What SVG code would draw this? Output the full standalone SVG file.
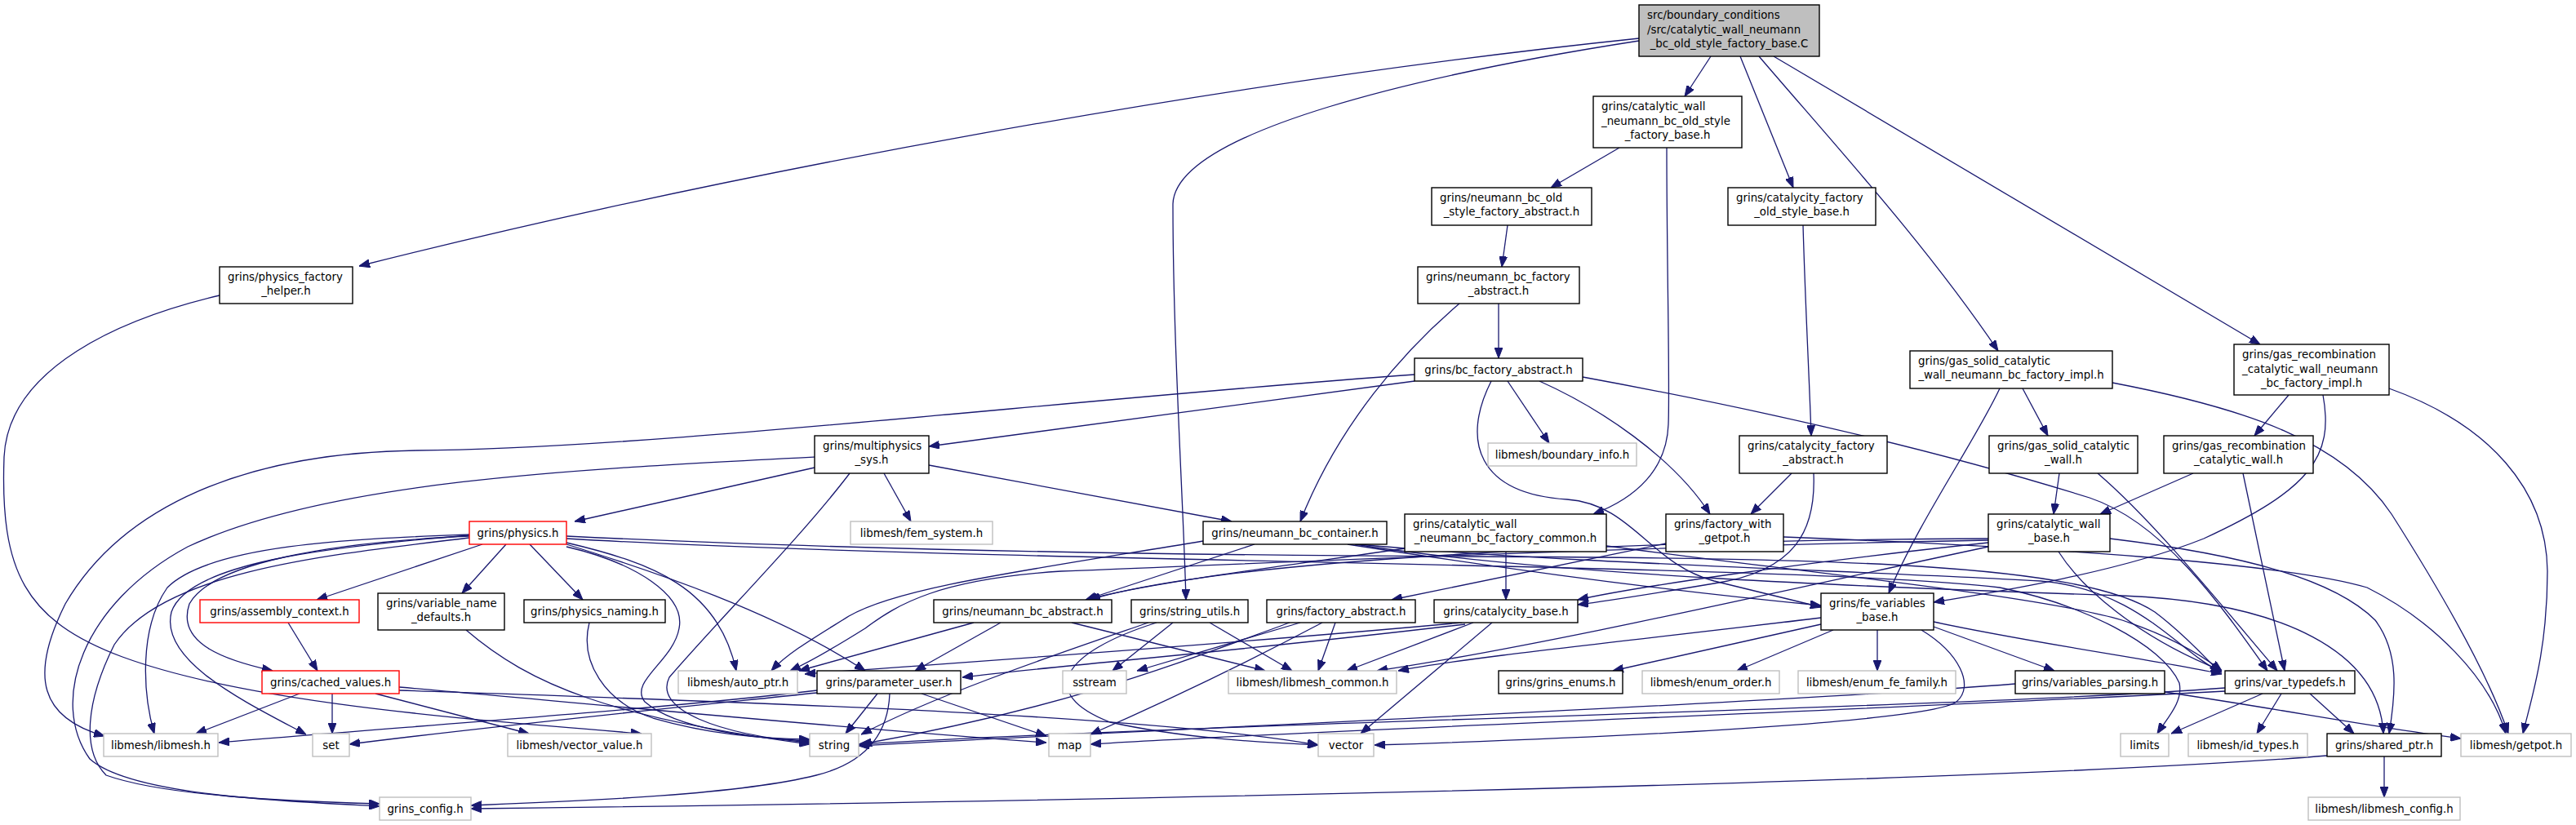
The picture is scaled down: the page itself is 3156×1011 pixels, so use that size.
<svg xmlns="http://www.w3.org/2000/svg" width="3156" height="1011" viewBox="0 0 3156 1011">
<style>
text{font-family:"DejaVu Sans","Liberation Sans",sans-serif;font-size:13.33px;fill:#000}
.c{text-anchor:middle}
.l{text-anchor:start}
rect{fill:#fff;stroke-width:1.4}
.n rect{stroke:#000}
.g rect{stroke:#bfbfbf}
.r rect{stroke:#ff0000}
.m rect{fill:#bfbfbf;stroke:#000}
#edges path{fill:none;stroke:#191970;stroke-width:1.3;marker-end:url(#ah)}
</style>
<defs>
<marker id="ah" markerUnits="userSpaceOnUse" markerWidth="13" markerHeight="10" refX="13" refY="5" orient="auto">
<path d="M0,0 L13,5 L0,10 z" fill="#191970" stroke="#191970" stroke-width="1"/>
</marker>
</defs>
<rect x="0" y="0" width="3156" height="1011" style="fill:#fff;stroke:none"/>
<g id="edges">
<path d="M2008,47 C1500,100 900,210 440,326"/>
<path d="M2008,50 C1750,90 1440,160 1437,250 C1437,420 1450,620 1453,735"/>
<path d="M2096,69 L2064,118"/>
<path d="M2132,69 L2197,230"/>
<path d="M2155,69 C2250,180 2360,300 2448,430"/>
<path d="M2173,69 L2769,422"/>
<path d="M1984,181 L1900,230"/>
<path d="M2042,181 C2042,320 2046,470 2044,520 C2042,575 2005,610 1952,630"/>
<path d="M2209,276 C2212,380 2217,470 2219,534"/>
<path d="M1847,276 L1840,327"/>
<path d="M1836,372 L1836,439"/>
<path d="M1788,372 C1720,430 1640,520 1593,639"/>
<path d="M1733,467 L1138,547"/>
<path d="M1733,459 C1300,490 800,550 510,552 C300,555 150,620 80,740 C35,830 50,880 128,902"/>
<path d="M1847,467 L1898,543"/>
<path d="M1886,467 C1960,500 2050,560 2095,630"/>
<path d="M1939,462 C2200,510 2400,560 2560,610 C2650,640 2720,740 2778,822"/>
<path d="M1827,467 C1790,540 1810,605 1920,612 C2000,618 2020,690 2100,712 L2231,744"/>
<path d="M2450,476 C2420,540 2350,640 2314,727"/>
<path d="M2478,476 L2509,534"/>
<path d="M2588,469 C2750,500 2870,540 2930,630 C3000,740 3050,830 3073,899"/>
<path d="M2804,484 L2762,534"/>
<path d="M2846,484 C2860,560 2830,600 2700,660 C2600,700 2450,725 2369,738"/>
<path d="M2927,476 C3050,520 3120,600 3121,700 C3121,800 3100,860 3091,899"/>
<path d="M998,573 L704,639"/>
<path d="M998,560 C700,575 400,590 230,670 C100,740 60,860 110,930 C160,975 350,982 465,988"/>
<path d="M1041,580 C980,660 880,760 820,830 C800,870 880,900 992,910"/>
<path d="M1083,580 L1116,639"/>
<path d="M1138,570 L1509,639"/>
<path d="M2195,580 L2145,630"/>
<path d="M2222,580 C2225,650 2200,700 2100,715 C2040,725 1980,735 1933,741"/>
<path d="M2523,580 L2516,630"/>
<path d="M2570,580 C2640,640 2720,740 2790,822"/>
<path d="M2687,580 L2573,630"/>
<path d="M2748,580 L2799,822"/>
<path d="M591,667 L388,735"/>
<path d="M620,667 L566,727"/>
<path d="M649,667 L714,735"/>
<path d="M575,657 C400,665 260,690 232,740 C215,790 280,810 334,822"/>
<path d="M575,655 C450,660 260,665 205,720 C170,770 175,850 189,899"/>
<path d="M575,656 C400,670 230,690 210,750 C195,810 300,860 375,900"/>
<path d="M575,659 C400,680 200,700 140,790 C105,860 100,920 130,950 C200,975 350,982 465,985"/>
<path d="M694,665 C800,690 880,720 902,822"/>
<path d="M694,667 C800,700 950,750 1060,822"/>
<path d="M694,670 C780,690 840,730 832,770 C825,810 770,835 790,860 C830,895 930,905 992,908"/>
<path d="M694,657 C1000,672 1400,680 1800,682 C2250,684 2550,690 2640,750 C2680,780 2705,810 2720,824"/>
<path d="M694,660 C1200,690 2200,690 2450,720 C2550,740 2650,790 2670,837 C2675,860 2655,880 2643,899"/>
<path d="M1537,667 L1330,735"/>
<path d="M1474,663 C1250,700 1100,720 1040,755 C1000,780 965,800 945,822"/>
<path d="M1651,667 C1800,690 2000,720 2231,742"/>
<path d="M1660,667 C1900,705 2300,720 2600,730 C2800,738 2915,800 2920,899"/>
<path d="M1665,667 C1900,690 2300,700 2500,712 C2620,722 2670,800 2722,824"/>
<path d="M1845,676 L1845,735"/>
<path d="M1722,672 C1600,690 1400,715 1332,735"/>
<path d="M1968,669 C2200,700 2500,730 2600,760 C2660,780 2700,805 2722,822"/>
<path d="M2041,666 L1705,735"/>
<path d="M2185,658 C2500,670 2800,690 2900,720 C2980,760 3050,830 3070,899"/>
<path d="M2436,665 C2200,690 2000,720 1933,735"/>
<path d="M2436,670 C2200,720 1900,790 1687,822"/>
<path d="M2436,660 C2000,662 1500,685 1335,735"/>
<path d="M2436,662 C2000,670 1600,688 1300,700 C1150,710 1100,740 1060,770 C1020,795 990,812 968,822"/>
<path d="M2585,660 C2750,680 2860,710 2910,760 C2940,800 2935,850 2927,899"/>
<path d="M2522,676 C2550,720 2617,780 2722,822"/>
<path d="M353,763 L389,822"/>
<path d="M571,772 C650,840 750,880 992,912"/>
<path d="M722,763 C710,810 740,860 800,880 C870,900 930,905 992,906"/>
<path d="M1193,763 L979,822"/>
<path d="M1226,763 L1121,822"/>
<path d="M1313,763 L1550,822"/>
<path d="M1437,763 L1363,822"/>
<path d="M1482,763 L1583,822"/>
<path d="M1407,763 C1300,800 1150,850 1055,900"/>
<path d="M1417,763 C1300,800 1270,850 1360,885 C1450,905 1550,910 1615,913"/>
<path d="M1636,763 L1615,822"/>
<path d="M1593,763 L1393,822"/>
<path d="M1580,763 C1450,810 1310,867 1055,912"/>
<path d="M1620,763 C1550,800 1450,850 1336,900"/>
<path d="M1805,763 L1650,822"/>
<path d="M1828,763 L1667,899"/>
<path d="M1791,763 C1500,790 1200,810 986,826"/>
<path d="M1795,765 C1500,800 1300,815 1179,830"/>
<path d="M2231,765 L1976,822"/>
<path d="M2246,772 L2128,822"/>
<path d="M2300,772 L2300,822"/>
<path d="M2369,768 L2517,822"/>
<path d="M2369,762 C2500,790 2650,810 2722,826"/>
<path d="M2231,757 C2000,785 1800,805 1713,822"/>
<path d="M2354,772 C2400,800 2420,840 2397,860 C2370,880 2100,900 1684,913"/>
<path d="M367,850 L240,899"/>
<path d="M407,850 L407,899"/>
<path d="M460,850 L648,899"/>
<path d="M489,842 C700,860 1000,890 1282,910"/>
<path d="M489,846 C900,860 1400,875 1615,913"/>
<path d="M1075,850 L1036,899"/>
<path d="M1129,850 L1282,902"/>
<path d="M1090,850 C1088,900 1060,935 1000,950 C900,975 700,982 577,987"/>
<path d="M1001,846 C800,870 500,890 268,910"/>
<path d="M1001,849 C800,870 600,890 428,912"/>
<path d="M2652,848 C2800,870 2900,890 3015,905"/>
<path d="M2469,838 C2200,860 1500,890 1052,914"/>
<path d="M2772,850 L2660,899"/>
<path d="M2795,850 L2765,899"/>
<path d="M2830,850 L2884,899"/>
<path d="M2726,843 C2400,868 1500,885 1052,912"/>
<path d="M2726,847 C2300,870 1600,895 1336,912"/>
<path d="M2851,926 C2500,955 1500,980 577,991"/>
<path d="M2921,927 L2921,977"/>
<path d="M269,362 C150,390 10,450 5,560 C0,700 30,760 150,805 C300,860 550,880 786,899"/>
</g>
<g id="n0" class="m"><rect x="2008" y="6" width="221" height="63"/><text class="l" x="2018" y="23">src/boundary_conditions</text><text class="l" x="2018" y="41">/src/catalytic_wall_neumann</text><text class="c" x="2118.5" y="58">_bc_old_style_factory_base.C</text></g>
<g id="n1" class="n"><rect x="269" y="327" width="163" height="45"/><text class="l" x="279" y="344">grins/physics_factory</text><text class="c" x="350.5" y="361">_helper.h</text></g>
<g id="n2" class="n"><rect x="1952" y="118" width="182" height="63"/><text class="l" x="1962" y="135">grins/catalytic_wall</text><text class="l" x="1962" y="153">_neumann_bc_old_style</text><text class="c" x="2043" y="170">_factory_base.h</text></g>
<g id="n3" class="n"><rect x="2117" y="230" width="181" height="46"/><text class="l" x="2127" y="247">grins/catalycity_factory</text><text class="c" x="2207.5" y="264">_old_style_base.h</text></g>
<g id="n4" class="n"><rect x="1754" y="230" width="196" height="46"/><text class="l" x="1764" y="247">grins/neumann_bc_old</text><text class="c" x="1852" y="264">_style_factory_abstract.h</text></g>
<g id="n5" class="n"><rect x="1737" y="327" width="198" height="45"/><text class="l" x="1747" y="344">grins/neumann_bc_factory</text><text class="c" x="1836" y="361">_abstract.h</text></g>
<g id="n6" class="n"><rect x="1733" y="439" width="206" height="28"/><text class="c" x="1836" y="457.5">grins/bc_factory_abstract.h</text></g>
<g id="n7" class="n"><rect x="2340" y="430" width="248" height="46"/><text class="l" x="2350" y="447">grins/gas_solid_catalytic</text><text class="c" x="2464" y="464">_wall_neumann_bc_factory_impl.h</text></g>
<g id="n8" class="n"><rect x="2737" y="422" width="190" height="62"/><text class="l" x="2747" y="439">grins/gas_recombination</text><text class="l" x="2747" y="457">_catalytic_wall_neumann</text><text class="c" x="2832" y="474">_bc_factory_impl.h</text></g>
<g id="n9" class="n"><rect x="998" y="534" width="140" height="46"/><text class="l" x="1008" y="551">grins/multiphysics</text><text class="c" x="1068" y="568">_sys.h</text></g>
<g id="n10" class="g"><rect x="1823" y="543" width="182" height="28"/><text class="c" x="1914" y="561.5">libmesh/boundary_info.h</text></g>
<g id="n11" class="n"><rect x="2131" y="534" width="181" height="46"/><text class="l" x="2141" y="551">grins/catalycity_factory</text><text class="c" x="2221.5" y="568">_abstract.h</text></g>
<g id="n12" class="n"><rect x="2437" y="534" width="182" height="46"/><text class="l" x="2447" y="551">grins/gas_solid_catalytic</text><text class="c" x="2528" y="568">_wall.h</text></g>
<g id="n13" class="n"><rect x="2651" y="534" width="183" height="46"/><text class="l" x="2661" y="551">grins/gas_recombination</text><text class="c" x="2742.5" y="568">_catalytic_wall.h</text></g>
<g id="n14" class="r"><rect x="575" y="639" width="119" height="28"/><text class="c" x="634.5" y="657.5">grins/physics.h</text></g>
<g id="n15" class="g"><rect x="1042" y="639" width="174" height="28"/><text class="c" x="1129" y="657.5">libmesh/fem_system.h</text></g>
<g id="n16" class="n"><rect x="1474" y="639" width="225" height="28"/><text class="c" x="1586.5" y="657.5">grins/neumann_bc_container.h</text></g>
<g id="n17" class="n"><rect x="1721" y="630" width="247" height="46"/><text class="l" x="1731" y="647">grins/catalytic_wall</text><text class="c" x="1844.5" y="664">_neumann_bc_factory_common.h</text></g>
<g id="n18" class="n"><rect x="2041" y="630" width="144" height="46"/><text class="l" x="2051" y="647">grins/factory_with</text><text class="c" x="2113" y="664">_getpot.h</text></g>
<g id="n19" class="n"><rect x="2436" y="630" width="149" height="46"/><text class="l" x="2446" y="647">grins/catalytic_wall</text><text class="c" x="2510.5" y="664">_base.h</text></g>
<g id="n20" class="r"><rect x="245" y="735" width="195" height="28"/><text class="c" x="342.5" y="753.5">grins/assembly_context.h</text></g>
<g id="n21" class="n"><rect x="463" y="727" width="155" height="45"/><text class="l" x="473" y="744">grins/variable_name</text><text class="c" x="540.5" y="761">_defaults.h</text></g>
<g id="n22" class="n"><rect x="642" y="735" width="173" height="28"/><text class="c" x="728.5" y="753.5">grins/physics_naming.h</text></g>
<g id="n23" class="n"><rect x="1144" y="735" width="218" height="28"/><text class="c" x="1253" y="753.5">grins/neumann_bc_abstract.h</text></g>
<g id="n24" class="n"><rect x="1386" y="735" width="143" height="28"/><text class="c" x="1457.5" y="753.5">grins/string_utils.h</text></g>
<g id="n25" class="n"><rect x="1552" y="735" width="182" height="28"/><text class="c" x="1643" y="753.5">grins/factory_abstract.h</text></g>
<g id="n26" class="n"><rect x="1757" y="735" width="176" height="28"/><text class="c" x="1845" y="753.5">grins/catalycity_base.h</text></g>
<g id="n27" class="n"><rect x="2231" y="727" width="138" height="45"/><text class="l" x="2241" y="744">grins/fe_variables</text><text class="c" x="2300" y="761">_base.h</text></g>
<g id="n28" class="r"><rect x="321" y="822" width="168" height="28"/><text class="c" x="405" y="840.5">grins/cached_values.h</text></g>
<g id="n29" class="g"><rect x="831" y="822" width="146" height="28"/><text class="c" x="904" y="840.5">libmesh/auto_ptr.h</text></g>
<g id="n30" class="n"><rect x="1001" y="822" width="176" height="28"/><text class="c" x="1089" y="840.5">grins/parameter_user.h</text></g>
<g id="n31" class="g"><rect x="1302" y="822" width="78" height="28"/><text class="c" x="1341" y="840.5">sstream</text></g>
<g id="n32" class="g"><rect x="1505" y="822" width="206" height="28"/><text class="c" x="1608" y="840.5">libmesh/libmesh_common.h</text></g>
<g id="n33" class="n"><rect x="1836" y="822" width="152" height="28"/><text class="c" x="1912" y="840.5">grins/grins_enums.h</text></g>
<g id="n34" class="g"><rect x="2012" y="822" width="168" height="28"/><text class="c" x="2096" y="840.5">libmesh/enum_order.h</text></g>
<g id="n35" class="g"><rect x="2203" y="822" width="193" height="28"/><text class="c" x="2299.5" y="840.5">libmesh/enum_fe_family.h</text></g>
<g id="n36" class="n"><rect x="2469" y="822" width="183" height="28"/><text class="c" x="2560.5" y="840.5">grins/variables_parsing.h</text></g>
<g id="n37" class="n"><rect x="2726" y="822" width="159" height="28"/><text class="c" x="2805.5" y="840.5">grins/var_typedefs.h</text></g>
<g id="n38" class="g"><rect x="127" y="899" width="140" height="28"/><text class="c" x="197" y="917.5">libmesh/libmesh.h</text></g>
<g id="n39" class="g"><rect x="383" y="899" width="45" height="28"/><text class="c" x="405.5" y="917.5">set</text></g>
<g id="n40" class="g"><rect x="622" y="899" width="176" height="28"/><text class="c" x="710" y="917.5">libmesh/vector_value.h</text></g>
<g id="n41" class="g"><rect x="992" y="899" width="60" height="28"/><text class="c" x="1022" y="917.5">string</text></g>
<g id="n42" class="g"><rect x="1285" y="899" width="51" height="28"/><text class="c" x="1310.5" y="917.5">map</text></g>
<g id="n43" class="g"><rect x="1615" y="899" width="68" height="28"/><text class="c" x="1649" y="917.5">vector</text></g>
<g id="n44" class="g"><rect x="2598" y="899" width="59" height="28"/><text class="c" x="2627.5" y="917.5">limits</text></g>
<g id="n45" class="g"><rect x="2681" y="899" width="146" height="28"/><text class="c" x="2754" y="917.5">libmesh/id_types.h</text></g>
<g id="n46" class="n"><rect x="2851" y="899" width="140" height="28"/><text class="c" x="2921" y="917.5">grins/shared_ptr.h</text></g>
<g id="n47" class="g"><rect x="3015" y="899" width="135" height="28"/><text class="c" x="3082.5" y="917.5">libmesh/getpot.h</text></g>
<g id="n48" class="g"><rect x="465" y="977" width="112" height="28"/><text class="c" x="521" y="995.5">grins_config.h</text></g>
<g id="n49" class="g"><rect x="2828" y="977" width="186" height="28"/><text class="c" x="2921" y="995.5">libmesh/libmesh_config.h</text></g>
</svg>
